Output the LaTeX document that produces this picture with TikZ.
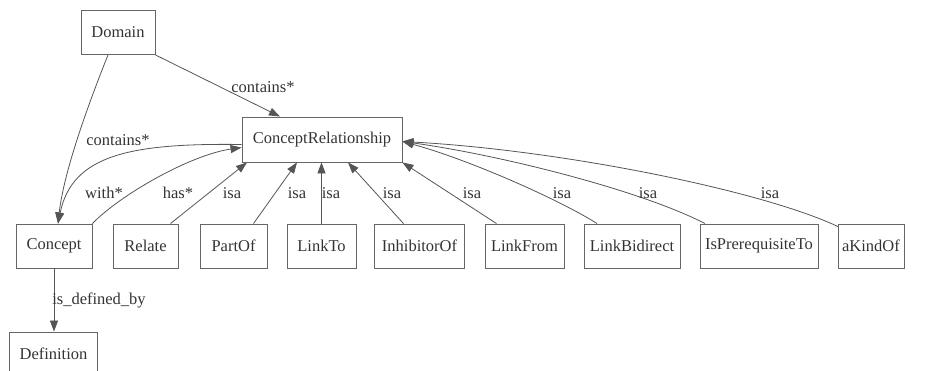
\documentclass[tikz,border=0pt]{standalone}
\usepackage{fontspec}
\setmainfont{Liberation Serif}
\usetikzlibrary{arrows.meta}
\definecolor{txt}{HTML}{333333}
\definecolor{linec}{HTML}{555555}
\definecolor{boxc}{HTML}{666666}
\begin{document}
\begin{tikzpicture}[x=1pt,y=-1pt,
 box/.style={draw=boxc, line width=0.9pt, text=txt, inner sep=0pt, font=\fontsize{16.5}{19}\selectfont, minimum height=44pt},
 lbl/.style={text=txt, font=\fontsize{16.5}{19}\selectfont, inner sep=0pt},
 edge/.style={draw=linec, line width=0.8pt, -{Triangle[length=11pt,width=8pt]}}]
\useasboundingbox (0,0) rectangle (950,371);
\node[box, minimum width=74pt] (domain) at (118,32.5) {Domain};
\node[box, minimum width=160pt, minimum height=45pt] (cr) at (322,139.5) {ConceptRelationship};
\node[box, minimum width=76pt] (concept) at (54,246) {Concept};
\node[box, minimum width=65pt] (relate) at (145.5,246) {Relate};
\node[box, minimum width=67pt] (partof) at (233.5,246) {PartOf};
\node[box, minimum width=69pt] (linkto) at (321.5,246) {LinkTo};
\node[box, minimum width=90pt] (inhib) at (419.5,246) {InhibitorOf};
\node[box, minimum width=79pt] (linkfrom) at (524.5,246) {LinkFrom};
\node[box, minimum width=96pt] (linkbi) at (632,246) {LinkBidirect};
\node[box, minimum width=118pt] (isprereq) at (759,246) {IsPrerequisiteTo};
\node[box, minimum width=66pt] (akind) at (871,246) {aKindOf};
\node[box, minimum width=88pt] (definition) at (53.5,354) {Definition};

% Domain edges
\draw[edge] ([xshift=-10pt]domain.south) .. controls (90,100) and (64,170) .. ([xshift=4pt]concept.north);
\draw[edge] (domain.south east) -- ([xshift=-42pt]cr.north);
% with* and has*
\draw[edge] ([yshift=-5pt]cr.west) .. controls (130,143) and (72,155) .. ([xshift=4pt]concept.north);
\draw[edge] (concept.north east) .. controls (120,195) and (190,155) .. ([yshift=-8pt]cr.west);
% isa edges
\draw[edge] ([xshift=25pt]relate.north) -- ([xshift=-75pt]cr.south);
\draw[edge] ([xshift=20pt]partof.north) -- ([xshift=-25pt]cr.south);
\draw[edge] (linkto.north) -- (linkto.north |- cr.south);
\draw[edge] ([xshift=-16pt]inhib.north) -- ([xshift=26pt]cr.south);
\draw[edge] ([xshift=-28pt]linkfrom.north) -- (cr.south east);
\draw[edge] ([xshift=-35pt]linkbi.north) .. controls (560,200) and (470,160) .. ([yshift=-2pt]cr.east);
\draw[edge] ([xshift=-54pt]isprereq.north) .. controls (640,190) and (500,155) .. ([yshift=-2pt]cr.east);
\draw[edge] ([xshift=-33pt,yshift=-3pt]akind.north) .. controls (760,190) and (560,150) .. ([yshift=-2pt]cr.east);
% definition
\draw[edge] (concept.south) -- (concept.south |- definition.north);

% labels
\node[lbl] (l1) at (263,87) {contains*};
\node[lbl] (l2) at (118,140) {contains*};
\node[lbl] (l3) at (104,193) {with*};
\node[lbl] (l4) at (178,193) {has*};
\node[lbl] (l5) at (232,193) {isa};
\node[lbl] (l6) at (297,193) {isa};
\node[lbl] (l7) at (331,193) {isa};
\node[lbl] (l8) at (392,193) {isa};
\node[lbl] (l9) at (472,193) {isa};
\node[lbl] (l10) at (562,193) {isa};
\node[lbl] (l11) at (648,193) {isa};
\node[lbl] (l12) at (770,193) {isa};
\node[lbl] (l13) at (99,300) {is\_defined\_by};
\end{tikzpicture}
\end{document}
